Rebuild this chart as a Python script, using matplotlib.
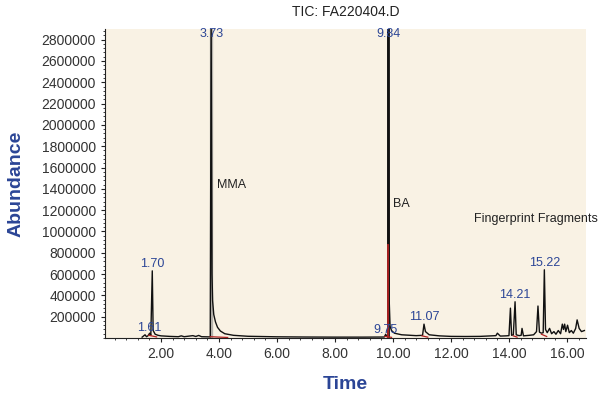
import numpy as np
import matplotlib.pyplot as plt
from matplotlib.ticker import MultipleLocator, FixedLocator

plt.rcParams['font.family'] = ['Liberation Sans', 'DejaVu Sans']

# TIC trace (time in min, abundance)
times = [1.35, 1.45, 1.50, 1.55, 1.61, 1.65, 1.70, 1.73, 1.80, 1.90, 2.00, 2.30,
         2.60, 2.70, 2.80, 3.10, 3.20, 3.30, 3.40, 3.70, 3.73, 3.76, 3.78,
         3.82, 3.88, 3.95, 4.05, 4.20, 4.50, 5.00, 6.00, 7.00, 8.00, 9.00, 9.70,
         9.75, 9.78, 9.82, 9.84, 9.87, 9.90, 9.95, 10.05, 10.30, 10.80, 11.02,
         11.07, 11.12, 11.25, 11.60, 12.00, 12.50, 13.00, 13.40, 13.55, 13.60,
         13.70, 13.90, 14.00, 14.05, 14.09, 14.15, 14.21, 14.25, 14.35, 14.42,
         14.45, 14.50, 14.70, 14.85, 14.95, 15.00, 15.05, 15.12, 15.18, 15.22,
         15.26, 15.32, 15.40, 15.47, 15.55, 15.62, 15.70, 15.78, 15.84, 15.88,
         15.92, 15.96, 16.02, 16.08, 16.15, 16.22, 16.30, 16.35, 16.42, 16.50,
         16.60]
abundance = [8000, 30000, 12000, 20000, 45000, 25000, 630000, 70000, 35000, 25000,
             20000, 15000, 12000, 20000, 12000, 22000, 14000, 24000, 12000, 10000,
             2950000, 600000, 350000, 220000, 150000, 100000, 65000, 40000,
             25000, 16000, 11000, 9000, 8000, 8000, 9000, 35000, 15000, 25000,
             2950000, 350000, 110000, 70000, 45000, 30000, 22000, 25000, 130000,
             60000, 30000, 20000, 15000, 14000, 15000, 20000, 22000, 45000, 18000,
             20000, 22000, 280000, 25000, 30000, 340000, 30000, 22000, 25000, 90000,
             20000, 25000, 30000, 60000, 300000, 55000, 45000, 50000, 640000, 80000,
             50000, 90000, 40000, 60000, 35000, 70000, 40000, 130000, 80000, 130000,
             60000, 120000, 50000, 70000, 45000, 90000, 170000, 90000, 60000, 70000]

# integration baselines (start, end) and the red overlay on the BA peak
base_start = [1.58, 3.70, 9.72, 11.00, 14.15, 15.12]
base_end = [1.85, 4.30, 9.95, 11.20, 14.28, 15.30]
base_level = [25000, 12000, 15000, 20000, 20000, 35000]
ba_red_top = 870000

peak_rt = [1.61, 1.70, 3.73, 9.75, 9.84, 11.07, 14.21, 15.22]
peak_label_y = [35000, 640000, 2800000, 20000, 2800000, 140000, 350000, 650000]

annot_text = ['MMA', 'BA', 'Fingerprint Fragments']
annot_x = [3.93, 10.0, 12.78]
annot_y = [1440000, 1260000, 1120000]

blue = '#2b4596'
fig = plt.figure(figsize=(5.99, 3.96), dpi=100)
ax = fig.add_axes([0.1753, 0.1465, 0.8027, 0.7803])
ax.set_facecolor('#f9f2e4')

ax.plot([3.73, 3.73], [0, 2950000], color='#888888', lw=2.4, alpha=0.6)
ax.plot(times, abundance, color='#111111', lw=1.0, clip_on=True)
ax.plot([9.84, 9.84], [0, 2950000], color='#111111', lw=2.0)
ax.plot([9.84, 9.84], [0, ba_red_top], color='#b22222', lw=1.3)
for s, e, b in zip(base_start, base_end, base_level):
    ax.plot([s, e], [b, b * 0.4], color='#b22222', lw=0.9)

for rt, yl in zip(peak_rt, peak_label_y):
    ax.text(rt, yl, f'{rt:.2f}', color=blue, fontsize=9, ha='center', va='bottom')

for t, x, y in zip(annot_text, annot_x, annot_y):
    ax.text(x, y, t, fontsize=9, color='#222222', ha='left', va='center', clip_on=False)

ax.set_xlim(0.07, 16.65)
ax.set_ylim(0, 2900000)
ax.xaxis.set_major_locator(FixedLocator([2, 4, 6, 8, 10, 12, 14, 16]))
ax.xaxis.set_minor_locator(MultipleLocator(0.4))
ax.set_xticklabels([f'{v:.2f}' for v in [2, 4, 6, 8, 10, 12, 14, 16]])
ax.yaxis.set_major_locator(FixedLocator(np.arange(200000, 2800001, 200000)))
ax.yaxis.set_minor_locator(MultipleLocator(40000))
ax.set_yticklabels([str(v) for v in np.arange(200000, 2800001, 200000)])

ax.tick_params(axis='both', which='major', labelsize=10, labelcolor='#333333',
               length=3, width=0.8, direction='out', color='#222222')
ax.tick_params(axis='both', which='minor', length=1.5, width=0.6, color='#222222')
ax.spines['top'].set_visible(False)
ax.spines['right'].set_visible(False)
ax.spines['left'].set_color('#222222')
ax.spines['bottom'].set_color('#222222')

ax.set_title('TIC: FA220404.D', fontsize=10, color='#222222', pad=9)
ax.set_xlabel('Time', fontsize=14, fontweight='bold', color=blue, labelpad=11)
ax.set_ylabel('Abundance', fontsize=14, fontweight='bold', color=blue, labelpad=12)

fig.savefig('out.png', dpi=100)
